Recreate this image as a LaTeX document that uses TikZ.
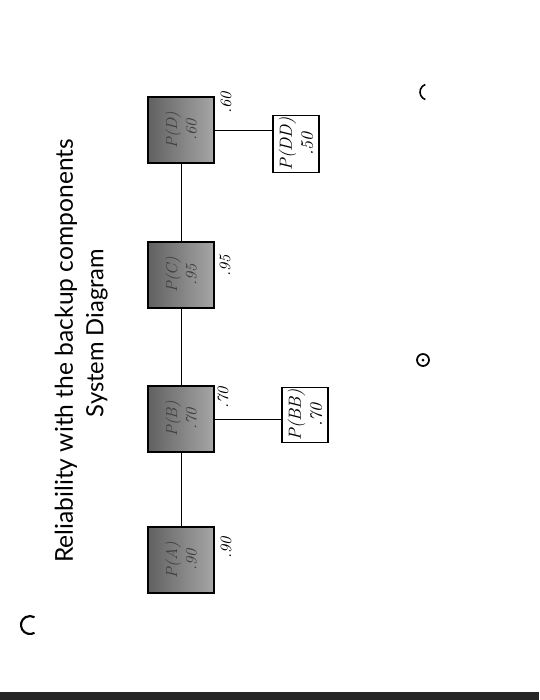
\documentclass[tikz,border=0pt]{standalone}
\usepackage{fontspec}
\newfontfamily\titlefont{Lato}
\tikzset{
  title/.style={rotate=90,font=\titlefont\fontsize{14}{16}\selectfont},
  comp/.style={rotate=90,draw,line width=0.8pt,minimum size=1.32cm,left color=black!62,right color=black!35,
    text=black!75,align=center,font=\itshape\small,inner sep=1pt},
  backup/.style={rotate=90,draw,line width=0.6pt,minimum width=1.1cm,minimum height=0.92cm,
    align=center,font=\itshape,inner sep=1pt},
  prob/.style={rotate=90,font=\itshape\small,inner sep=1pt}
}
\begin{document}
\begin{tikzpicture}[x=0.02cm,y=-0.02cm]
\useasboundingbox (0,0) rectangle (539,700);
\fill[black!85] (0,692) rectangle (539,700);

\node[title] (t1) at (66,351) {Reliability with the backup components};
\node[title] (t2) at (97,333) {\fontsize{13.5}{16}\selectfont System Diagram};

\node[comp] (a) at (181,560) {P(A)\\.90};
\node[comp] (b) at (181,419) {P(B)\\.70};
\node[comp] (c) at (181,275) {P(C)\\.95};
\node[comp] (d) at (181,130) {P(D)\\.60};
\draw (a) -- (b);
\draw (b) -- (c);
\draw (c) -- (d);

\node[prob] (pa) at (226,548) {.90};
\node[prob] (pb) at (223,398) {.70};
\node[prob] (pc) at (225,266) {.95};
\node[prob] (pd) at (226,103) {.60};

\node[backup] (bb) at (305,415) {P(BB)\\.70};
\node[backup] (dd) at (296,144) {P(DD)\\.50};
\draw (b) -- (b -| bb.north);
\draw (d) -- (d -| dd.north);

\draw[line width=0.9pt] (428,92) ++(110:8) arc[start angle=110,end angle=250,radius=8];
\draw[line width=1pt] (423,360) circle[radius=6];
\fill (423,360) circle[radius=1.5];
\draw[line width=1.2pt] (30,625) ++(60:9) arc[start angle=60,end angle=300,radius=9];
\end{tikzpicture}
\end{document}
